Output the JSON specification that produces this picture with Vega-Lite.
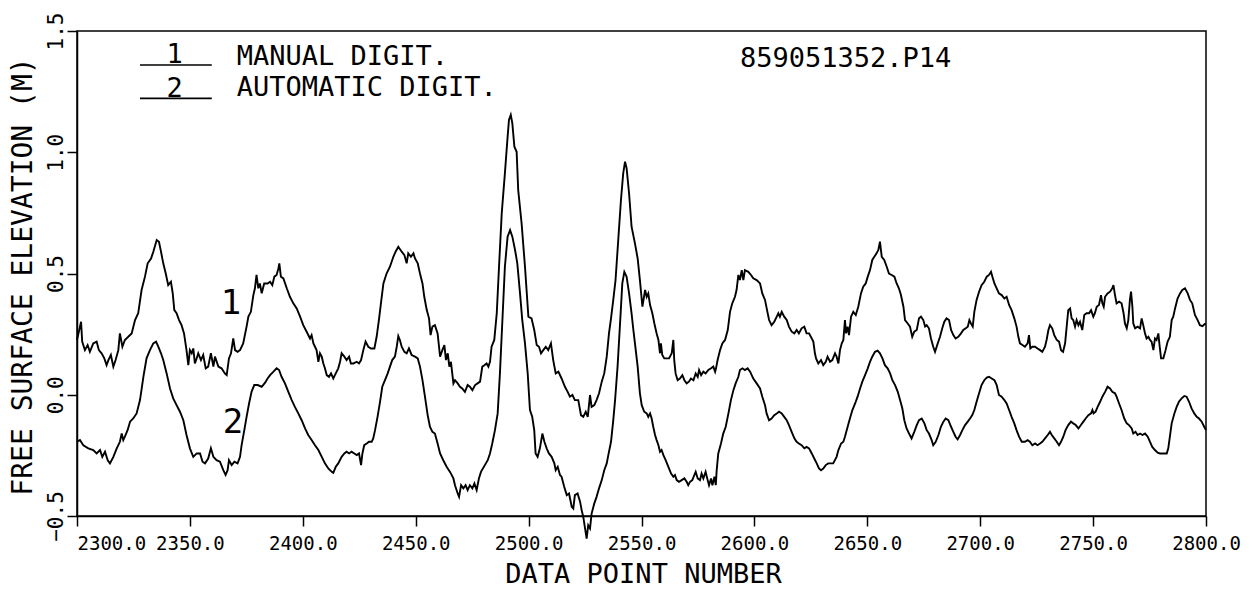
{
"$schema": "https://vega.github.io/schema/vega-lite/v6.json",
"width": 1129, "height": 485,
"autosize": {"type": "none"},
"padding": {"left": 77, "top": 31, "right": 48, "bottom": 73},
"background": "white",
"config": {
 "view": {"stroke": "black", "strokeWidth": 1.5},
 "font": "DejaVu Sans Mono",
 "axis": {"grid": false, "domainColor": "black", "domainWidth": 1.5, "tickColor": "black", "tickWidth": 1.5, "tickSize": 10, "labelColor": "black", "titleColor": "black", "labelFont": "DejaVu Sans Mono", "titleFont": "DejaVu Sans Mono", "labelFontSize": 19, "titleFontSize": 28, "titleFontWeight": "normal"}
},
"datasets": {
"c1": [
{"x":2300,"y":0.226},{"x":2301.8,"y":0.301},{"x":2302.3,"y":0.219},{"x":2303.5,"y":0.184},{"x":2304.7,"y":0.205},{"x":2305.7,"y":0.177},{"x":2307.2,"y":0.212},{"x":2308.7,"y":0.219},{"x":2309.7,"y":0.184},{"x":2310.9,"y":0.171},{"x":2312.1,"y":0.150},{"x":2313.1,"y":0.122},{"x":2313.9,"y":0.143},{"x":2315.0,"y":0.164},{"x":2316.1,"y":0.116},{"x":2317.1,"y":0.143},{"x":2318.3,"y":0.184},{"x":2319.0,"y":0.253},{"x":2320.1,"y":0.198},{"x":2321.2,"y":0.226},{"x":2322.7,"y":0.239},{"x":2324.2,"y":0.253},{"x":2325.7,"y":0.308},{"x":2327.1,"y":0.336},{"x":2328.6,"y":0.432},{"x":2330.1,"y":0.487},{"x":2331.3,"y":0.542},{"x":2332.8,"y":0.562},{"x":2333.8,"y":0.590},{"x":2335.3,"y":0.638},{"x":2336.3,"y":0.631},{"x":2337.2,"y":0.590},{"x":2338.2,"y":0.542},{"x":2339.3,"y":0.500},{"x":2340.4,"y":0.452},{"x":2341.6,"y":0.466},{"x":2342.4,"y":0.418},{"x":2343.1,"y":0.349},{"x":2344.1,"y":0.336},{"x":2345.2,"y":0.308},{"x":2346.3,"y":0.287},{"x":2347.4,"y":0.253},{"x":2348.5,"y":0.184},{"x":2349.3,"y":0.122},{"x":2350.0,"y":0.184},{"x":2350.8,"y":0.171},{"x":2351.5,"y":0.191},{"x":2352.2,"y":0.129},{"x":2353.0,"y":0.150},{"x":2353.7,"y":0.171},{"x":2354.9,"y":0.143},{"x":2355.9,"y":0.164},{"x":2357.0,"y":0.109},{"x":2358.1,"y":0.116},{"x":2359.3,"y":0.171},{"x":2360.4,"y":0.116},{"x":2361.1,"y":0.157},{"x":2362.6,"y":0.116},{"x":2364.0,"y":0.109},{"x":2365.5,"y":0.088},{"x":2366.3,"y":0.081},{"x":2367.3,"y":0.150},{"x":2368.2,"y":0.171},{"x":2369.2,"y":0.232},{"x":2370.0,"y":0.184},{"x":2371.1,"y":0.177},{"x":2372.2,"y":0.184},{"x":2373.6,"y":0.212},{"x":2375.1,"y":0.281},{"x":2375.9,"y":0.322},{"x":2377.0,"y":0.342},{"x":2378.1,"y":0.411},{"x":2378.8,"y":0.439},{"x":2379.5,"y":0.494},{"x":2380.3,"y":0.439},{"x":2381.0,"y":0.459},{"x":2381.8,"y":0.418},{"x":2382.9,"y":0.459},
{"x":2384.4,"y":0.459},{"x":2385.5,"y":0.466},{"x":2386.5,"y":0.452},{"x":2387.4,"y":0.487},{"x":2388.4,"y":0.494},{"x":2389.2,"y":0.521},{"x":2389.6,"y":0.542},{"x":2390.3,"y":0.487},{"x":2391.4,"y":0.480},{"x":2392.9,"y":0.439},{"x":2394.3,"y":0.404},{"x":2395.8,"y":0.377},{"x":2397.3,"y":0.356},{"x":2398.8,"y":0.322},{"x":2400.2,"y":0.287},{"x":2401.7,"y":0.260},{"x":2403.2,"y":0.232},{"x":2403.9,"y":0.246},{"x":2404.7,"y":0.212},{"x":2405.4,"y":0.198},{"x":2406.1,"y":0.184},{"x":2406.9,"y":0.136},{"x":2407.6,"y":0.171},{"x":2408.4,"y":0.157},{"x":2409.1,"y":0.129},{"x":2409.8,"y":0.109},{"x":2410.6,"y":0.081},{"x":2411.6,"y":0.074},{"x":2412.5,"y":0.088},{"x":2413.5,"y":0.067},{"x":2414.6,"y":0.088},{"x":2415.7,"y":0.109},{"x":2416.5,"y":0.136},{"x":2417.2,"y":0.171},{"x":2418.4,"y":0.157},{"x":2419.4,"y":0.143},{"x":2420.5,"y":0.157},{"x":2421.3,"y":0.129},{"x":2422.4,"y":0.129},{"x":2423.9,"y":0.136},{"x":2424.9,"y":0.129},{"x":2425.8,"y":0.143},{"x":2426.8,"y":0.184},{"x":2427.8,"y":0.219},{"x":2429.0,"y":0.198},{"x":2430.2,"y":0.191},{"x":2431.7,"y":0.191},{"x":2432.7,"y":0.239},{"x":2433.7,"y":0.308},{"x":2434.6,"y":0.377},{"x":2435.7,"y":0.459},{"x":2437.1,"y":0.500},{"x":2438.6,"y":0.528},{"x":2440.1,"y":0.569},{"x":2441.1,"y":0.590},{"x":2442.3,"y":0.610},{"x":2443.8,"y":0.590},{"x":2445.0,"y":0.576},{"x":2446.0,"y":0.542},{"x":2446.7,"y":0.583},{"x":2447.9,"y":0.569},{"x":2449.0,"y":0.583},{"x":2449.7,"y":0.562},{"x":2450.9,"y":0.542},{"x":2451.9,"y":0.500},{"x":2453.0,"y":0.459},{"x":2453.8,"y":0.404},{"x":2454.9,"y":0.349},{"x":2455.9,"y":0.315},{"x":2456.6,"y":0.246},{"x":2457.4,"y":0.281},{"x":2458.5,"y":0.287},{"x":2459.7,"y":0.253},{"x":2460.8,"y":0.157},{"x":2461.8,"y":0.184},{"x":2462.7,"y":0.205},{"x":2463.4,"y":0.143},{"x":2464.2,"y":0.171},{"x":2464.9,"y":0.116},{"x":2465.6,"y":0.136},{"x":2466.7,"y":0.047},
{"x":2467.4,"y":0.060},{"x":2468.6,"y":0.047},{"x":2469.6,"y":0.033},{"x":2470.6,"y":0.026},{"x":2471.8,"y":0.012},{"x":2473.0,"y":0.040},{"x":2474.0,"y":0.033},{"x":2475.1,"y":0.019},{"x":2476.3,"y":0.040},{"x":2477.4,"y":0.047},{"x":2478.5,"y":0.054},{"x":2479.5,"y":0.116},{"x":2480.4,"y":0.122},{"x":2481.4,"y":0.129},{"x":2482.2,"y":0.116},{"x":2482.9,"y":0.136},{"x":2483.6,"y":0.198},{"x":2484.8,"y":0.226},{"x":2485.9,"y":0.336},{"x":2486.9,"y":0.528},{"x":2488.1,"y":0.748},{"x":2489.5,"y":0.913},{"x":2490.6,"y":1.051},{"x":2491.3,"y":1.133},{"x":2492.1,"y":1.154},{"x":2492.8,"y":1.119},{"x":2493.7,"y":1.023},{"x":2494.7,"y":1.002},{"x":2495.4,"y":0.844},{"x":2496.9,"y":0.707},{"x":2498.4,"y":0.528},{"x":2499.9,"y":0.322},{"x":2501.3,"y":0.315},{"x":2502.5,"y":0.267},{"x":2503.6,"y":0.205},{"x":2504.6,"y":0.198},{"x":2505.5,"y":0.171},{"x":2506.5,"y":0.184},{"x":2507.6,"y":0.198},{"x":2508.7,"y":0.184},{"x":2509.9,"y":0.212},{"x":2510.9,"y":0.143},{"x":2512.0,"y":0.088},{"x":2513.2,"y":0.095},{"x":2514.6,"y":0.067},{"x":2516.1,"y":0.033},{"x":2517.3,"y":0.012},{"x":2518.3,"y":-0.008},{"x":2519.4,"y":-0.001},{"x":2520.5,"y":-0.022},{"x":2522.0,"y":-0.022},{"x":2523.2,"y":-0.084},{"x":2524.2,"y":-0.091},{"x":2525.3,"y":-0.070},{"x":2526.2,"y":-0.091},{"x":2527.2,"y":-0.001},{"x":2527.9,"y":-0.050},{"x":2529.1,"y":-0.043},{"x":2530.1,"y":-0.022},{"x":2531.2,"y":0.006},{"x":2532.4,"y":0.054},{"x":2533.5,"y":0.088},{"x":2534.6,"y":0.157},{"x":2535.6,"y":0.253},{"x":2536.5,"y":0.315},{"x":2537.5,"y":0.391},{"x":2538.5,"y":0.473},{"x":2539.7,"y":0.638},{"x":2540.9,"y":0.803},{"x":2541.9,"y":0.913},{"x":2542.7,"y":0.961},{"x":2543.4,"y":0.934},{"x":2544.5,"y":0.830},{"x":2545.6,"y":0.693},{"x":2547.1,"y":0.624},{"x":2548.3,"y":0.562},{"x":2549.3,"y":0.473},{"x":2550.4,"y":0.363},
{"x":2551.6,"y":0.432},{"x":2552.3,"y":0.404},{"x":2553.0,"y":0.418},{"x":2553.8,"y":0.370},{"x":2554.8,"y":0.336},{"x":2555.7,"y":0.294},{"x":2556.7,"y":0.253},{"x":2557.5,"y":0.226},{"x":2558.2,"y":0.171},{"x":2558.6,"y":0.212},{"x":2559.2,"y":0.164},{"x":2560.1,"y":0.150},{"x":2561.1,"y":0.150},{"x":2562.2,"y":0.150},{"x":2563.4,"y":0.171},{"x":2564.1,"y":0.226},{"x":2564.5,"y":0.143},{"x":2565.1,"y":0.088},{"x":2566.0,"y":0.060},{"x":2567.0,"y":0.067},{"x":2568.1,"y":0.081},{"x":2569.0,"y":0.060},{"x":2570.0,"y":0.047},{"x":2571.0,"y":0.054},{"x":2571.9,"y":0.067},{"x":2573.0,"y":0.060},{"x":2574.0,"y":0.088},{"x":2574.9,"y":0.074},{"x":2575.5,"y":0.102},{"x":2576.4,"y":0.081},{"x":2577.4,"y":0.095},{"x":2578.4,"y":0.088},{"x":2579.6,"y":0.102},{"x":2580.8,"y":0.109},{"x":2581.8,"y":0.116},{"x":2582.6,"y":0.095},{"x":2583.0,"y":0.109},{"x":2583.7,"y":0.143},{"x":2584.8,"y":0.184},{"x":2585.8,"y":0.212},{"x":2587.0,"y":0.226},{"x":2588.2,"y":0.267},{"x":2589.2,"y":0.342},{"x":2590.2,"y":0.377},{"x":2591.4,"y":0.404},{"x":2592.1,"y":0.432},{"x":2592.9,"y":0.494},{"x":2593.6,"y":0.473},{"x":2594.4,"y":0.514},{"x":2595.1,"y":0.473},{"x":2595.8,"y":0.514},{"x":2597.3,"y":0.507},{"x":2598.5,"y":0.494},{"x":2599.5,"y":0.480},{"x":2601.0,"y":0.473},{"x":2602.5,"y":0.459},{"x":2603.5,"y":0.418},{"x":2604.7,"y":0.391},{"x":2605.6,"y":0.349},{"x":2606.5,"y":0.308},{"x":2607.6,"y":0.287},{"x":2608.8,"y":0.301},{"x":2609.9,"y":0.322},{"x":2610.6,"y":0.336},{"x":2611.3,"y":0.322},{"x":2612.1,"y":0.342},{"x":2613.2,"y":0.322},{"x":2614.3,"y":0.308},{"x":2615.3,"y":0.281},{"x":2616.5,"y":0.260},{"x":2617.7,"y":0.253},{"x":2618.7,"y":0.267},{"x":2619.7,"y":0.253},{"x":2620.9,"y":0.274},{"x":2622.1,"y":0.281},{"x":2623.1,"y":0.253},{"x":2624.2,"y":0.253},{"x":2625.4,"y":0.232},{"x":2626.1,"y":0.219},{"x":2626.8,"y":0.171},{"x":2627.3,"y":0.150},{"x":2628.3,"y":0.129},{"x":2629.5,"y":0.143},{"x":2630.5,"y":0.122},{"x":2631.6,"y":0.136},{"x":2632.4,"y":0.157},{"x":2633.5,"y":0.136},{"x":2634.5,"y":0.143},
{"x":2635.7,"y":0.171},{"x":2636.4,"y":0.157},{"x":2637.2,"y":0.129},{"x":2637.9,"y":0.184},{"x":2638.7,"y":0.212},{"x":2639.4,"y":0.226},{"x":2640.1,"y":0.308},{"x":2640.6,"y":0.253},{"x":2641.3,"y":0.281},{"x":2641.9,"y":0.246},{"x":2642.8,"y":0.322},{"x":2643.8,"y":0.342},{"x":2644.9,"y":0.329},{"x":2646.0,"y":0.363},{"x":2647.2,"y":0.418},{"x":2648.2,"y":0.446},{"x":2649.3,"y":0.459},{"x":2650.2,"y":0.487},{"x":2651.2,"y":0.514},{"x":2652.2,"y":0.556},{"x":2653.1,"y":0.569},{"x":2654.1,"y":0.583},{"x":2654.9,"y":0.597},{"x":2655.6,"y":0.631},{"x":2656.4,"y":0.569},{"x":2657.5,"y":0.556},{"x":2658.6,"y":0.528},{"x":2659.6,"y":0.500},{"x":2660.8,"y":0.494},{"x":2662.0,"y":0.487},{"x":2663.0,"y":0.459},{"x":2664.0,"y":0.439},{"x":2664.9,"y":0.411},{"x":2666.0,"y":0.363},{"x":2666.7,"y":0.308},{"x":2667.9,"y":0.294},{"x":2668.9,"y":0.281},{"x":2669.9,"y":0.239},{"x":2670.8,"y":0.260},{"x":2671.9,"y":0.267},{"x":2672.9,"y":0.315},{"x":2673.8,"y":0.322},{"x":2674.8,"y":0.308},{"x":2675.6,"y":0.281},{"x":2676.3,"y":0.287},{"x":2677.3,"y":0.274},{"x":2678.2,"y":0.232},{"x":2679.2,"y":0.198},{"x":2680.0,"y":0.177},{"x":2681.2,"y":0.212},{"x":2682.2,"y":0.239},{"x":2683.2,"y":0.274},{"x":2684.1,"y":0.301},{"x":2685.1,"y":0.315},{"x":2686.2,"y":0.308},{"x":2687.1,"y":0.267},{"x":2688.1,"y":0.246},{"x":2689.1,"y":0.232},{"x":2690.3,"y":0.239},{"x":2691.5,"y":0.253},{"x":2692.5,"y":0.267},{"x":2693.6,"y":0.274},{"x":2694.5,"y":0.281},{"x":2695.2,"y":0.308},{"x":2695.9,"y":0.294},{"x":2696.7,"y":0.281},{"x":2697.4,"y":0.342},{"x":2698.4,"y":0.391},{"x":2699.5,"y":0.425},{"x":2700.6,"y":0.452},{"x":2701.8,"y":0.466},{"x":2702.9,"y":0.487},{"x":2703.9,"y":0.494},{"x":2704.8,"y":0.507},{"x":2705.4,"y":0.487},{"x":2706.3,"y":0.459},{"x":2707.3,"y":0.439},{"x":2708.3,"y":0.418},{"x":2709.5,"y":0.411},{"x":2710.7,"y":0.397},{"x":2711.7,"y":0.404},{"x":2712.8,"y":0.370},{"x":2713.9,"y":0.349},{"x":2715.1,"y":0.315},{"x":2716.1,"y":0.281},{"x":2716.9,"y":0.239},{"x":2717.6,"y":0.212},{"x":2718.7,"y":0.205},
{"x":2719.8,"y":0.198},{"x":2721.0,"y":0.212},{"x":2721.6,"y":0.246},{"x":2722.2,"y":0.191},{"x":2723.1,"y":0.198},{"x":2724.3,"y":0.198},{"x":2725.4,"y":0.191},{"x":2726.5,"y":0.184},{"x":2727.5,"y":0.177},{"x":2728.7,"y":0.198},{"x":2729.4,"y":0.226},{"x":2730.2,"y":0.267},{"x":2730.9,"y":0.287},{"x":2731.9,"y":0.274},{"x":2732.8,"y":0.246},{"x":2733.9,"y":0.226},{"x":2734.9,"y":0.219},{"x":2735.8,"y":0.184},{"x":2736.7,"y":0.177},{"x":2737.6,"y":0.212},{"x":2738.3,"y":0.281},{"x":2739.0,"y":0.349},{"x":2739.8,"y":0.356},{"x":2740.5,"y":0.315},{"x":2741.2,"y":0.308},{"x":2742.0,"y":0.281},{"x":2742.7,"y":0.308},{"x":2743.5,"y":0.287},{"x":2744.2,"y":0.301},{"x":2745.2,"y":0.267},{"x":2746.1,"y":0.329},{"x":2747.1,"y":0.336},{"x":2748.2,"y":0.336},{"x":2749.1,"y":0.349},{"x":2750.1,"y":0.322},{"x":2750.8,"y":0.336},{"x":2751.6,"y":0.363},{"x":2752.6,"y":0.370},{"x":2753.5,"y":0.411},{"x":2754.1,"y":0.377},{"x":2754.7,"y":0.363},{"x":2755.3,"y":0.404},{"x":2756.4,"y":0.418},{"x":2757.5,"y":0.425},{"x":2758.5,"y":0.439},{"x":2759.0,"y":0.452},{"x":2759.7,"y":0.411},{"x":2760.4,"y":0.377},{"x":2761.5,"y":0.384},{"x":2762.6,"y":0.377},{"x":2763.5,"y":0.336},{"x":2764.1,"y":0.294},{"x":2764.9,"y":0.274},{"x":2765.6,"y":0.308},{"x":2766.3,"y":0.391},{"x":2766.8,"y":0.425},{"x":2767.4,"y":0.363},{"x":2767.8,"y":0.294},{"x":2768.6,"y":0.274},{"x":2769.7,"y":0.281},{"x":2770.8,"y":0.274},{"x":2771.5,"y":0.315},{"x":2772.2,"y":0.287},{"x":2773.0,"y":0.253},{"x":2773.7,"y":0.232},{"x":2774.5,"y":0.239},{"x":2775.2,"y":0.226},{"x":2775.9,"y":0.219},{"x":2776.7,"y":0.184},{"x":2777.4,"y":0.232},{"x":2778.1,"y":0.226},{"x":2778.9,"y":0.253},{"x":2779.5,"y":0.198},{"x":2780.1,"y":0.150},{"x":2781.1,"y":0.150},{"x":2782.1,"y":0.184},{"x":2783.0,"y":0.219},{"x":2784.0,"y":0.239},{"x":2784.8,"y":0.308},{"x":2785.5,"y":0.322},{"x":2786.3,"y":0.356},{"x":2787.4,"y":0.397},{"x":2788.5,"y":0.418},{"x":2789.5,"y":0.432},{"x":2790.7,"y":0.439},{"x":2791.9,"y":0.418},{"x":2792.9,"y":0.391},{"x":2793.9,"y":0.377},{"x":2795.1,"y":0.329},{"x":2796.3,"y":0.308},{"x":2797.3,"y":0.287},{"x":2798.4,"y":0.283},{"x":2799.5,"y":0.292},{"x":2800,"y":0.292}
],
"c2": [
{"x":2300,"y":-0.194},{"x":2301.3,"y":-0.187},{"x":2302.8,"y":-0.208},{"x":2305.0,"y":-0.221},{"x":2307.2,"y":-0.228},{"x":2308.7,"y":-0.242},{"x":2310.2,"y":-0.228},{"x":2311.2,"y":-0.256},{"x":2312.4,"y":-0.235},{"x":2313.6,"y":-0.270},{"x":2314.6,"y":-0.283},{"x":2316.1,"y":-0.256},{"x":2317.6,"y":-0.221},{"x":2319.0,"y":-0.194},{"x":2319.8,"y":-0.160},{"x":2320.5,"y":-0.187},{"x":2321.2,"y":-0.173},{"x":2322.4,"y":-0.146},{"x":2323.5,"y":-0.111},{"x":2324.9,"y":-0.098},{"x":2326.4,"y":-0.077},{"x":2327.9,"y":-0.022},{"x":2329.4,"y":0.074},{"x":2330.8,"y":0.150},{"x":2332.3,"y":0.184},{"x":2333.8,"y":0.212},{"x":2335.0,"y":0.219},{"x":2336.0,"y":0.198},{"x":2337.2,"y":0.171},{"x":2338.2,"y":0.143},{"x":2339.7,"y":0.088},{"x":2341.2,"y":0.026},{"x":2342.6,"y":-0.015},{"x":2344.1,"y":-0.043},{"x":2345.6,"y":-0.070},{"x":2347.1,"y":-0.105},{"x":2348.5,"y":-0.166},{"x":2350.0,"y":-0.221},{"x":2351.5,"y":-0.256},{"x":2353.0,"y":-0.242},{"x":2354.5,"y":-0.242},{"x":2355.6,"y":-0.276},{"x":2356.7,"y":-0.283},{"x":2358.1,"y":-0.263},{"x":2359.3,"y":-0.221},{"x":2360.4,"y":-0.256},{"x":2361.8,"y":-0.270},{"x":2363.3,"y":-0.276},{"x":2364.8,"y":-0.311},{"x":2365.8,"y":-0.331},{"x":2366.7,"y":-0.311},{"x":2367.3,"y":-0.270},{"x":2368.5,"y":-0.290},{"x":2369.7,"y":-0.276},{"x":2371.1,"y":-0.283},{"x":2372.2,"y":-0.256},{"x":2372.9,"y":-0.208},{"x":2374.1,"y":-0.146},{"x":2375.1,"y":-0.091},{"x":2376.2,"y":-0.036},{"x":2377.3,"y":0.012},{"x":2378.5,"y":0.040},{"x":2380.0,"y":0.040},{"x":2381.8,"y":0.033},
{"x":2383.3,"y":0.050},{"x":2384.4,"y":0.067},{"x":2385.5,"y":0.081},{"x":2387.0,"y":0.095},{"x":2388.4,"y":0.109},{"x":2389.5,"y":0.102},{"x":2390.6,"y":0.074},{"x":2392.1,"y":0.047},{"x":2393.6,"y":0.012},{"x":2395.1,"y":-0.022},{"x":2396.5,"y":-0.050},{"x":2398.0,"y":-0.077},{"x":2399.5,"y":-0.105},{"x":2401.0,"y":-0.139},{"x":2402.4,"y":-0.166},{"x":2403.9,"y":-0.187},{"x":2405.4,"y":-0.208},{"x":2406.9,"y":-0.228},{"x":2408.4,"y":-0.256},{"x":2409.8,"y":-0.283},{"x":2411.3,"y":-0.304},{"x":2412.8,"y":-0.318},{"x":2413.5,"y":-0.322},{"x":2414.6,"y":-0.297},{"x":2415.7,"y":-0.283},{"x":2417.2,"y":-0.256},{"x":2418.4,"y":-0.242},{"x":2419.4,"y":-0.235},{"x":2420.5,"y":-0.242},{"x":2421.6,"y":-0.235},{"x":2422.8,"y":-0.242},{"x":2423.9,"y":-0.249},{"x":2424.9,"y":-0.242},{"x":2425.8,"y":-0.290},{"x":2426.4,"y":-0.242},{"x":2427.2,"y":-0.208},{"x":2428.3,"y":-0.201},{"x":2429.3,"y":-0.194},{"x":2430.5,"y":-0.194},{"x":2431.2,"y":-0.180},{"x":2432.0,"y":-0.146},{"x":2433.1,"y":-0.091},{"x":2434.2,"y":-0.029},{"x":2435.2,"y":0.033},{"x":2436.4,"y":0.060},{"x":2437.6,"y":0.088},{"x":2438.6,"y":0.116},{"x":2439.6,"y":0.143},{"x":2440.8,"y":0.157},{"x":2441.6,"y":0.198},{"x":2442.3,"y":0.242},{"x":2443.0,"y":0.226},{"x":2443.8,"y":0.198},{"x":2445.0,"y":0.177},{"x":2446.0,"y":0.171},{"x":2447.0,"y":0.191},{"x":2448.2,"y":0.164},{"x":2449.7,"y":0.157},{"x":2450.9,"y":0.150},{"x":2451.9,"y":0.116},{"x":2453.0,"y":0.060},{"x":2454.1,"y":-0.008},{"x":2455.3,"y":-0.084},{"x":2456.3,"y":-0.132},{"x":2457.4,"y":-0.153},{"x":2458.5,"y":-0.160},{"x":2459.7,"y":-0.201},{"x":2460.8,"y":-0.242},{"x":2462.2,"y":-0.270},{"x":2463.7,"y":-0.297},{"x":2465.2,"y":-0.318},{"x":2466.7,"y":-0.345},
{"x":2467.4,"y":-0.373},{"x":2468.6,"y":-0.407},{"x":2469.2,"y":-0.421},{"x":2470.1,"y":-0.373},{"x":2471.1,"y":-0.386},{"x":2472.1,"y":-0.373},{"x":2473.0,"y":-0.393},{"x":2474.0,"y":-0.373},{"x":2475.1,"y":-0.386},{"x":2476.0,"y":-0.366},{"x":2477.0,"y":-0.393},{"x":2478.0,"y":-0.345},{"x":2478.9,"y":-0.318},{"x":2481.9,"y":-0.270},{"x":2482.9,"y":-0.242},{"x":2483.9,"y":-0.201},{"x":2485.1,"y":-0.146},{"x":2486.3,"y":-0.077},{"x":2487.3,"y":0.088},{"x":2488.4,"y":0.308},{"x":2489.5,"y":0.528},{"x":2490.7,"y":0.652},{"x":2491.8,"y":0.679},{"x":2492.8,"y":0.652},{"x":2494.0,"y":0.597},{"x":2495.0,"y":0.542},{"x":2496.2,"y":0.418},{"x":2497.2,"y":0.308},{"x":2498.4,"y":0.212},{"x":2499.6,"y":0.088},{"x":2500.6,"y":-0.063},{"x":2501.6,"y":-0.091},{"x":2502.5,"y":-0.146},{"x":2503.1,"y":-0.242},{"x":2504.0,"y":-0.256},{"x":2505.0,"y":-0.221},{"x":2506.1,"y":-0.160},{"x":2507.0,"y":-0.194},{"x":2508.0,"y":-0.221},{"x":2509.0,"y":-0.242},{"x":2510.2,"y":-0.256},{"x":2511.4,"y":-0.283},{"x":2512.0,"y":-0.311},{"x":2512.9,"y":-0.297},{"x":2513.9,"y":-0.331},{"x":2514.6,"y":-0.338},{"x":2515.8,"y":-0.380},{"x":2516.9,"y":-0.414},{"x":2517.9,"y":-0.407},{"x":2519.1,"y":-0.462},{"x":2519.8,"y":-0.469},{"x":2520.5,"y":-0.414},{"x":2521.7,"y":-0.407},{"x":2522.8,"y":-0.441},{"x":2523.5,"y":-0.476},{"x":2524.2,"y":-0.503},{"x":2525.0,"y":-0.551},{"x":2525.7,"y":-0.593},{"x":2526.4,"y":-0.538},{"x":2527.2,"y":-0.551},{"x":2527.9,"y":-0.490},{"x":2529.1,"y":-0.448},{"x":2530.1,"y":-0.421},{"x":2531.2,"y":-0.386},{"x":2532.4,"y":-0.352},{"x":2533.5,"y":-0.311},{"x":2534.6,"y":-0.283},{"x":2535.3,"y":-0.249},{"x":2536.5,"y":-0.194},{"x":2537.5,"y":-0.105},{"x":2538.3,"y":-0.022},{"x":2539.4,"y":0.116},{"x":2540.5,"y":0.294},{"x":2541.5,"y":0.459},{"x":2542.4,"y":0.507},{"x":2543.4,"y":0.487},{"x":2544.5,"y":0.418},{"x":2545.6,"y":0.336},{"x":2546.4,"y":0.267},{"x":2547.1,"y":0.212},{"x":2548.3,"y":0.116},{"x":2549.3,"y":0.006},{"x":2550.1,"y":-0.043},{"x":2551.2,"y":-0.070},
{"x":2552.3,"y":-0.077},{"x":2553.0,"y":-0.091},{"x":2553.8,"y":-0.077},{"x":2554.5,"y":-0.098},{"x":2555.2,"y":-0.132},{"x":2556.0,"y":-0.166},{"x":2556.7,"y":-0.187},{"x":2557.5,"y":-0.208},{"x":2558.2,"y":-0.235},{"x":2558.9,"y":-0.228},{"x":2559.7,"y":-0.249},{"x":2560.7,"y":-0.270},{"x":2561.9,"y":-0.297},{"x":2563.1,"y":-0.325},{"x":2564.1,"y":-0.338},{"x":2564.8,"y":-0.331},{"x":2565.6,"y":-0.352},{"x":2566.6,"y":-0.359},{"x":2567.8,"y":-0.352},{"x":2569.0,"y":-0.345},{"x":2570.0,"y":-0.359},{"x":2570.7,"y":-0.373},{"x":2571.5,"y":-0.359},{"x":2572.5,"y":-0.352},{"x":2573.4,"y":-0.331},{"x":2574.0,"y":-0.318},{"x":2574.9,"y":-0.345},{"x":2575.9,"y":-0.352},{"x":2576.6,"y":-0.325},{"x":2577.4,"y":-0.345},{"x":2578.4,"y":-0.318},{"x":2579.3,"y":-0.352},{"x":2579.9,"y":-0.373},{"x":2580.8,"y":-0.345},{"x":2581.4,"y":-0.373},{"x":2582.3,"y":-0.338},{"x":2582.9,"y":-0.373},{"x":2583.3,"y":-0.311},{"x":2584.0,"y":-0.242},{"x":2585.2,"y":-0.201},{"x":2586.2,"y":-0.160},{"x":2587.3,"y":-0.132},{"x":2588.5,"y":-0.077},{"x":2589.6,"y":-0.022},{"x":2590.7,"y":0.019},{"x":2591.7,"y":0.047},{"x":2592.9,"y":0.074},{"x":2593.6,"y":0.102},{"x":2594.7,"y":0.109},{"x":2595.8,"y":0.102},{"x":2597.0,"y":0.109},{"x":2598.1,"y":0.095},{"x":2598.8,"y":0.081},{"x":2599.5,"y":0.067},{"x":2601.0,"y":0.047},{"x":2602.5,"y":0.026},{"x":2603.5,"y":-0.008},{"x":2604.7,"y":-0.043},{"x":2605.4,"y":-0.077},{"x":2606.5,"y":-0.105},{"x":2607.6,"y":-0.098},{"x":2608.8,"y":-0.084},{"x":2609.9,"y":-0.077},{"x":2610.9,"y":-0.070},{"x":2612.1,"y":-0.077},{"x":2613.2,"y":-0.091},{"x":2614.3,"y":-0.105},{"x":2615.3,"y":-0.125},{"x":2616.5,"y":-0.153},{"x":2617.7,"y":-0.180},{"x":2618.7,"y":-0.194},{"x":2619.7,"y":-0.201},{"x":2620.9,"y":-0.208},{"x":2622.1,"y":-0.221},{"x":2623.1,"y":-0.215},{"x":2624.2,"y":-0.221},{"x":2625.4,"y":-0.242},{"x":2626.5,"y":-0.263},{"x":2627.6,"y":-0.283},{"x":2628.6,"y":-0.304},{"x":2629.5,"y":-0.311},{"x":2630.5,"y":-0.304},{"x":2631.6,"y":-0.290},{"x":2632.7,"y":-0.283},{"x":2633.9,"y":-0.283},{"x":2634.9,"y":-0.283},
{"x":2636.4,"y":-0.256},{"x":2637.2,"y":-0.228},{"x":2638.4,"y":-0.201},{"x":2639.4,"y":-0.194},{"x":2640.1,"y":-0.173},{"x":2641.3,"y":-0.132},{"x":2642.3,"y":-0.098},{"x":2643.4,"y":-0.063},{"x":2644.6,"y":-0.036},{"x":2645.7,"y":-0.008},{"x":2646.8,"y":0.026},{"x":2647.8,"y":0.054},{"x":2649.0,"y":0.081},{"x":2650.2,"y":0.109},{"x":2651.2,"y":0.136},{"x":2652.2,"y":0.157},{"x":2653.4,"y":0.177},{"x":2654.6,"y":0.182},{"x":2655.6,"y":0.171},{"x":2656.7,"y":0.150},{"x":2657.8,"y":0.122},{"x":2659.0,"y":0.109},{"x":2660.1,"y":0.088},{"x":2661.1,"y":0.060},{"x":2662.3,"y":0.040},{"x":2663.5,"y":0.012},{"x":2664.5,"y":-0.022},{"x":2665.5,"y":-0.056},{"x":2666.4,"y":-0.105},{"x":2667.4,"y":-0.139},{"x":2668.5,"y":-0.160},{"x":2669.6,"y":-0.180},{"x":2670.8,"y":-0.153},{"x":2671.9,"y":-0.125},{"x":2672.9,"y":-0.105},{"x":2674.1,"y":-0.098},{"x":2675.3,"y":-0.118},{"x":2676.3,"y":-0.146},{"x":2677.3,"y":-0.160},{"x":2678.5,"y":-0.187},{"x":2679.2,"y":-0.208},{"x":2680.3,"y":-0.194},{"x":2681.5,"y":-0.166},{"x":2682.6,"y":-0.132},{"x":2683.7,"y":-0.111},{"x":2684.7,"y":-0.098},{"x":2685.9,"y":-0.105},{"x":2687.1,"y":-0.132},{"x":2688.1,"y":-0.153},{"x":2689.1,"y":-0.173},{"x":2690.0,"y":-0.184},{"x":2691.1,"y":-0.166},{"x":2692.1,"y":-0.146},{"x":2693.3,"y":-0.125},{"x":2694.5,"y":-0.111},{"x":2695.5,"y":-0.098},{"x":2696.5,"y":-0.084},{"x":2697.4,"y":-0.063},{"x":2698.4,"y":-0.029},{"x":2699.5,"y":0.006},{"x":2700.6,"y":0.040},{"x":2701.8,"y":0.060},{"x":2702.9,"y":0.071},{"x":2703.9,"y":0.074},{"x":2705.1,"y":0.067},{"x":2706.3,"y":0.060},{"x":2707.3,"y":0.040},{"x":2708.3,"y":-0.001},{"x":2709.5,"y":-0.008},{"x":2710.7,"y":-0.022},{"x":2711.7,"y":-0.036},{"x":2712.8,"y":-0.063},{"x":2713.9,"y":-0.091},{"x":2715.1,"y":-0.118},{"x":2716.1,"y":-0.146},{"x":2717.2,"y":-0.173},{"x":2718.4,"y":-0.194},
{"x":2719.8,"y":-0.194},{"x":2721.0,"y":-0.187},{"x":2722.0,"y":-0.194},{"x":2723.1,"y":-0.208},{"x":2724.3,"y":-0.201},{"x":2725.4,"y":-0.208},{"x":2726.5,"y":-0.201},{"x":2727.5,"y":-0.194},{"x":2728.7,"y":-0.180},{"x":2729.9,"y":-0.166},{"x":2730.9,"y":-0.153},{"x":2731.7,"y":-0.166},{"x":2732.8,"y":-0.180},{"x":2733.9,"y":-0.194},{"x":2734.9,"y":-0.208},{"x":2735.8,"y":-0.194},{"x":2736.8,"y":-0.173},{"x":2737.8,"y":-0.146},{"x":2739.0,"y":-0.125},{"x":2740.2,"y":-0.111},{"x":2741.2,"y":-0.118},{"x":2742.3,"y":-0.125},{"x":2743.5,"y":-0.139},{"x":2744.6,"y":-0.125},{"x":2745.7,"y":-0.111},{"x":2746.7,"y":-0.098},{"x":2747.9,"y":-0.084},{"x":2749.1,"y":-0.077},{"x":2749.7,"y":-0.063},{"x":2750.2,"y":-0.077},{"x":2751.1,"y":-0.070},{"x":2752.0,"y":-0.050},{"x":2753.1,"y":-0.029},{"x":2754.1,"y":-0.008},{"x":2755.3,"y":0.012},{"x":2756.4,"y":0.033},{"x":2757.5,"y":0.026},{"x":2758.5,"y":0.012},{"x":2759.7,"y":0.006},{"x":2760.4,"y":-0.008},{"x":2761.5,"y":-0.036},{"x":2762.6,"y":-0.063},{"x":2763.8,"y":-0.098},{"x":2764.9,"y":-0.118},{"x":2765.9,"y":-0.125},{"x":2767.1,"y":-0.139},{"x":2767.8,"y":-0.160},{"x":2768.8,"y":-0.153},{"x":2769.7,"y":-0.166},{"x":2770.8,"y":-0.160},{"x":2771.8,"y":-0.166},{"x":2773.0,"y":-0.160},{"x":2774.2,"y":-0.173},{"x":2775.2,"y":-0.194},{"x":2776.2,"y":-0.215},{"x":2777.4,"y":-0.228},{"x":2778.6,"y":-0.239},{"x":2779.6,"y":-0.242},{"x":2781.1,"y":-0.242},{"x":2782.6,"y":-0.242},{"x":2783.3,"y":-0.221},{"x":2784.0,"y":-0.173},{"x":2784.8,"y":-0.118},{"x":2786.0,"y":-0.077},{"x":2787.0,"y":-0.050},{"x":2788.0,"y":-0.029},{"x":2789.2,"y":-0.015},{"x":2790.4,"y":-0.005},{"x":2791.4,"y":-0.008},{"x":2792.5,"y":-0.029},{"x":2793.6,"y":-0.056},{"x":2794.8,"y":-0.077},{"x":2795.9,"y":-0.091},{"x":2796.9,"y":-0.098},{"x":2798.1,"y":-0.111},{"x":2799.2,"y":-0.132},{"x":2800,"y":-0.146}
],
"legendRules": [{"x":2327.9,"x2":2359.7,"y":1.360},{"x":2327.9,"x2":2359.7,"y":1.222}],
"legendNums": [{"x":2343.2,"y":1.366,"t":"1"},{"x":2343.2,"y":1.228,"t":"2"}],
"legendText": [{"x":2370.7,"y":1.360,"t":"MANUAL DIGIT."},{"x":2370.7,"y":1.230,"t":"AUTOMATIC DIGIT."},{"x":2593.6,"y":1.353,"t":"859051352.P14"}],
"curveLabels": [{"x":2368.2,"y":0.335,"t":"1"},{"x":2369.1,"y":-0.158,"t":"2"}]
},
"layer": [
 {"data": {"name": "c1"}, "mark": {"type": "line", "color": "black", "strokeWidth": 1.9, "clip": false},
  "encoding": {
   "x": {"field": "x", "type": "quantitative", "scale": {"domain": [2300, 2800], "nice": false, "zero": false},
     "axis": {"values": [2300,2350,2400,2450,2500,2550,2600,2650,2700,2750,2800], "format": ".1f", "title": "DATA POINT NUMBER", "labelBaseline": "top", "labelPadding": 8, "labelAlign": {"condition": {"test": "datum.value === 2300", "value": "left"}, "value": "center"}, "labelDx": 3, "labelFlush": false, "labelOverlap": false, "titleX": 566, "titleY": 72, "titleAlign": "center", "titleBaseline": "bottom", "titleFontSize": 27}},
   "y": {"field": "y", "type": "quantitative", "scale": {"domain": [-0.5, 1.5], "nice": false, "zero": false},
     "axis": {"values": [-0.5, 0, 0.5, 1.0, 1.5], "format": ".1f", "title": "FREE SURFACE ELEVATION (M)", "labelFontSize": 21, "labelAngle": 270, "labelAlign": "center", "labelBaseline": "alphabetic", "labelPadding": 5, "titleAngle": 270, "titleX": -46, "titleY": 245, "titleAlign": "center", "titleBaseline": "alphabetic"}}
  }},
 {"data": {"name": "c2"}, "mark": {"type": "line", "color": "black", "strokeWidth": 1.9, "clip": false},
  "encoding": {"x": {"field": "x", "type": "quantitative"}, "y": {"field": "y", "type": "quantitative"}}},
 {"data": {"name": "legendRules"}, "mark": {"type": "rule", "color": "black", "strokeWidth": 1.6},
  "encoding": {"x": {"field": "x", "type": "quantitative"}, "x2": {"field": "x2"}, "y": {"field": "y", "type": "quantitative"}}},
 {"data": {"name": "legendNums"}, "mark": {"type": "text", "font": "DejaVu Sans Mono", "fontSize": 27, "align": "center", "baseline": "alphabetic", "color": "black"},
  "encoding": {"x": {"field": "x", "type": "quantitative"}, "y": {"field": "y", "type": "quantitative"}, "text": {"field": "t"}}},
 {"data": {"name": "legendText"}, "mark": {"type": "text", "font": "DejaVu Sans Mono", "fontSize": 27, "align": "left", "baseline": "alphabetic", "color": "black"},
  "encoding": {"x": {"field": "x", "type": "quantitative"}, "y": {"field": "y", "type": "quantitative"}, "text": {"field": "t"}}},
 {"data": {"name": "curveLabels"}, "mark": {"type": "text", "font": "DejaVu Sans Mono", "fontSize": 34, "align": "center", "baseline": "alphabetic", "color": "black"},
  "encoding": {"x": {"field": "x", "type": "quantitative"}, "y": {"field": "y", "type": "quantitative"}, "text": {"field": "t"}}}
]
}
